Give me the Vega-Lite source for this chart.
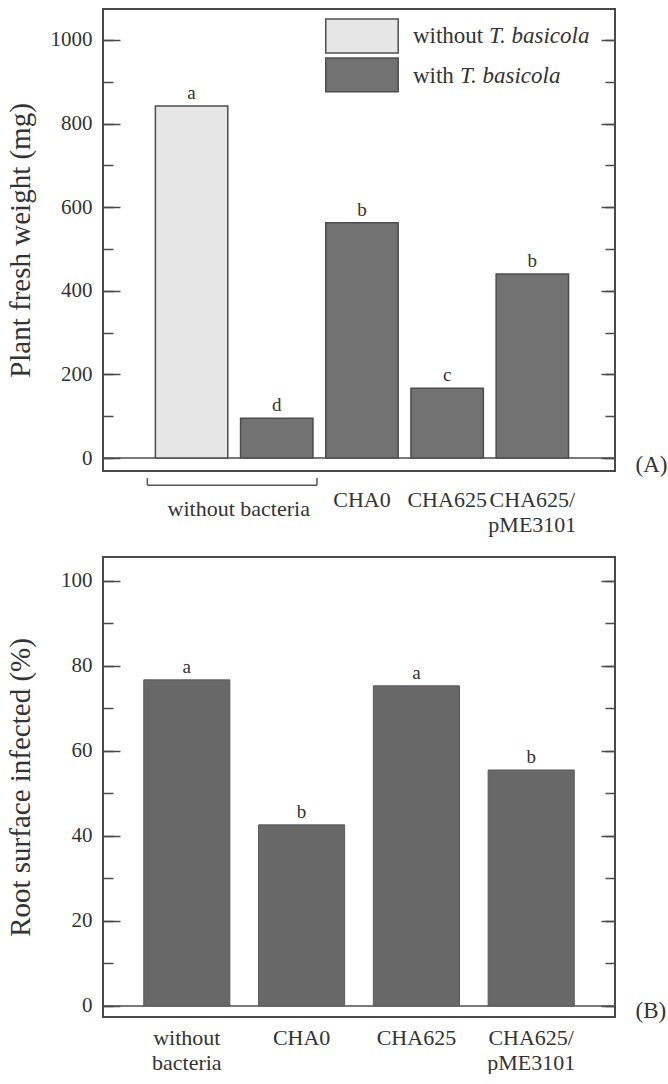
{
  "$schema": "https://vega.github.io/schema/vega-lite/v6.json",
  "background": "white",
  "padding": {"top": 8, "left": 5, "right": 0, "bottom": 0},
  "spacing": 20,
  "config": {
    "font": "Liberation Serif",
    "view": {"stroke": "#4a4a4a", "strokeWidth": 2},
    "axis": {"labelFont": "Liberation Serif", "titleFont": "Liberation Serif", "labelColor": "#333333", "titleColor": "#333333", "titleFontWeight": "normal", "grid": false, "domain": false, "tickColor": "#4a4a4a", "tickWidth": 1.5},
    "text": {"font": "Liberation Serif", "color": "#333333"}
  },
  "datasets": {
    "a_bars": [
      {"cat": "nb_without", "value": 842, "group": "without", "letter": "a"},
      {"cat": "nb_with", "value": 95, "group": "with", "letter": "d"},
      {"cat": "CHA0", "value": 563, "group": "with", "letter": "b"},
      {"cat": "CHA625", "value": 167, "group": "with", "letter": "c"},
      {"cat": "CHA625/pME3101", "value": 440, "group": "with", "letter": "b"}
    ],
    "a_legend": [
      {"swatch_cat": "CHA0", "label_cat": "CHA625", "top": 1050, "bottom": 969, "mid": 1010, "group": "without", "word": "without", "species": "T. basicola"},
      {"swatch_cat": "CHA0", "label_cat": "CHA625", "top": 957, "bottom": 876, "mid": 913, "group": "with", "word": "with", "species": "T. basicola"}
    ],
    "a_notes": [
      {"label": "without bacteria"}
    ],
    "b_bars": [
      {"cat": "without bacteria", "value": 76.7, "letter": "a"},
      {"cat": "CHA0", "value": 42.6, "letter": "b"},
      {"cat": "CHA625", "value": 75.3, "letter": "a"},
      {"cat": "CHA625/pME3101", "value": 55.5, "letter": "b"}
    ]
  },
  "vconcat": [
    {
      "width": 512,
      "height": 462,
      "layer": [
        {
          "data": {"values": [{}]},
          "mark": {"type": "rule", "color": "#4d4d4d", "strokeWidth": 1.5},
          "encoding": {"y": {"datum": 0, "type": "quantitative", "scale": {"domain": [-31, 1074], "nice": false, "zero": false}, "axis": null}}
        },
        {
          "data": {"name": "a_bars"},
          "mark": {"type": "bar", "stroke": "#4d4d4d", "strokeWidth": 1.5},
          "encoding": {
            "x": {"field": "cat", "type": "nominal", "sort": null,
              "scale": {"domain": ["nb_without", "nb_with", "CHA0", "CHA625", "CHA625/pME3101"], "paddingInner": 0.15, "paddingOuter": 0.58, "align": 0.53},
              "axis": {"title": null, "ticks": false, "tickSize": 0, "domain": false, "labelAngle": 0, "labelFontSize": 22, "labelPadding": 18, "labelLineHeight": 25, "labelOverlap": false, "labelLimit": 0,
                "labelExpr": "datum.label == 'nb_without' || datum.label == 'nb_with' ? '' : (datum.label == 'CHA625/pME3101' ? ['CHA625/', 'pME3101'] : datum.label)"}},
            "y": {"field": "value", "type": "quantitative", "scale": {"domain": [-31, 1074], "nice": false, "zero": false},
              "axis": {"orient": "left", "offset": -10, "title": "Plant fresh weight (mg)", "format": "d", "values": [0, 100, 200, 300, 400, 500, 600, 700, 800, 900, 1000],
                "labelExpr": "datum.value % 200 === 0 ? datum.label : ''",
                "tickSize": 10, "labelFontSize": 21, "labelPadding": 11, "titleFontSize": 29, "titlePadding": 13, "minExtent": 65, "maxExtent": 65}},
            "color": {"field": "group", "type": "nominal", "scale": {"domain": ["without", "with"], "range": ["#e6e6e6", "#727272"]}, "legend": null}
          }
        },
        {
          "data": {"name": "a_bars"},
          "mark": {"type": "point", "opacity": 0},
          "encoding": {
            "x": {"field": "cat", "type": "nominal"},
            "y": {"field": "value", "type": "quantitative", "scale": {"domain": [-31, 1074], "nice": false, "zero": false},
              "axis": {"orient": "right", "offset": -10, "title": "(A)", "titleAngle": 0, "titleAnchor": "start", "titleAlign": "left", "titleBaseline": "alphabetic", "titlePadding": 20, "titleFontSize": 23,
                "labels": false, "values": [0, 100, 200, 300, 400, 500, 600, 700, 800, 900, 1000],
                "tickSize": 10, "minExtent": 10, "maxExtent": 10}}
          }
        },
        {
          "data": {"name": "a_bars"},
          "mark": {"type": "point", "opacity": 0},
          "encoding": {
            "x": {"field": "cat", "type": "nominal"},
            "y": {"field": "value", "type": "quantitative", "scale": {"domain": [-31, 1074], "nice": false, "zero": false},
              "axis": {"orient": "left", "offset": -17, "title": null, "labels": false, "values": [0, 200, 400, 600, 800, 1000],
                "tickSize": 17, "minExtent": 0, "maxExtent": 0}}
          }
        },
        {
          "data": {"name": "a_bars"},
          "mark": {"type": "point", "opacity": 0},
          "encoding": {
            "x": {"field": "cat", "type": "nominal"},
            "y": {"field": "value", "type": "quantitative", "scale": {"domain": [-31, 1074], "nice": false, "zero": false},
              "axis": {"orient": "right", "offset": -14, "title": null, "labels": false, "values": [0, 200, 400, 600, 800, 1000],
                "tickSize": 14, "minExtent": 0, "maxExtent": 0}}
          }
        },
        {
          "data": {"name": "a_bars"},
          "mark": {"type": "text", "fontSize": 19, "dy": -7, "baseline": "alphabetic"},
          "encoding": {
            "x": {"field": "cat", "type": "nominal"},
            "y": {"field": "value", "type": "quantitative", "scale": {"domain": [-31, 1074], "nice": false, "zero": false}, "axis": null},
            "text": {"field": "letter"}
          }
        },
        {
          "data": {"name": "a_legend"},
          "mark": {"type": "bar", "stroke": "#4d4d4d", "strokeWidth": 1.5},
          "encoding": {
            "x": {"field": "swatch_cat", "type": "nominal"},
            "y": {"field": "top", "type": "quantitative", "scale": {"domain": [-31, 1074], "nice": false, "zero": false}, "axis": null},
            "y2": {"field": "bottom"},
            "color": {"field": "group", "type": "nominal", "legend": null}
          }
        },
        {
          "data": {"name": "a_legend"},
          "mark": {"type": "text", "align": "left", "baseline": "middle", "fontSize": 23, "dx": 2},
          "encoding": {
            "x": {"field": "label_cat", "type": "nominal", "bandPosition": 0},
            "y": {"field": "mid", "type": "quantitative", "scale": {"domain": [-31, 1074], "nice": false, "zero": false}, "axis": null},
            "text": {"field": "word"}
          }
        },
        {
          "data": {"name": "a_legend"},
          "transform": [{"filter": "datum.group == 'without'"}],
          "mark": {"type": "text", "align": "left", "baseline": "middle", "fontSize": 23, "fontStyle": "italic", "dx": 78},
          "encoding": {
            "x": {"field": "label_cat", "type": "nominal", "bandPosition": 0},
            "y": {"field": "mid", "type": "quantitative", "scale": {"domain": [-31, 1074], "nice": false, "zero": false}, "axis": null},
            "text": {"field": "species"}
          }
        },
        {
          "data": {"name": "a_legend"},
          "transform": [{"filter": "datum.group == 'with'"}],
          "mark": {"type": "text", "align": "left", "baseline": "middle", "fontSize": 23, "fontStyle": "italic", "dx": 49},
          "encoding": {
            "x": {"field": "label_cat", "type": "nominal", "bandPosition": 0},
            "y": {"field": "mid", "type": "quantitative", "scale": {"domain": [-31, 1074], "nice": false, "zero": false}, "axis": null},
            "text": {"field": "species"}
          }
        },
        {
          "data": {"name": "a_notes"},
          "mark": {"type": "rule", "color": "#555555", "strokeWidth": 1.5, "xOffset": -8, "x2Offset": 4},
          "encoding": {
            "x": {"datum": "nb_without", "type": "nominal", "bandPosition": 0},
            "x2": {"datum": "nb_with", "bandPosition": 1},
            "y": {"datum": -65, "type": "quantitative", "scale": {"domain": [-31, 1074], "nice": false, "zero": false}, "axis": null}
          }
        },
        {
          "data": {"name": "a_notes"},
          "mark": {"type": "rule", "color": "#555555", "strokeWidth": 1.5, "xOffset": -8},
          "encoding": {
            "x": {"datum": "nb_without", "type": "nominal", "bandPosition": 0},
            "y": {"datum": -65, "type": "quantitative", "scale": {"domain": [-31, 1074], "nice": false, "zero": false}, "axis": null},
            "y2": {"datum": -48}
          }
        },
        {
          "data": {"name": "a_notes"},
          "mark": {"type": "rule", "color": "#555555", "strokeWidth": 1.5, "xOffset": 4},
          "encoding": {
            "x": {"datum": "nb_with", "type": "nominal", "bandPosition": 1},
            "y": {"datum": -65, "type": "quantitative", "scale": {"domain": [-31, 1074], "nice": false, "zero": false}, "axis": null},
            "y2": {"datum": -48}
          }
        },
        {
          "data": {"name": "a_notes"},
          "mark": {"type": "text", "fontSize": 22, "baseline": "alphabetic", "align": "center", "dx": 11},
          "encoding": {
            "x": {"datum": "nb_without", "type": "nominal", "bandPosition": 1},
            "y": {"datum": -139, "type": "quantitative", "scale": {"domain": [-31, 1074], "nice": false, "zero": false}, "axis": null},
            "text": {"field": "label"}
          }
        }
      ],
      "resolve": {"axis": {"y": "independent"}}
    },
    {
      "width": 512,
      "height": 460,
      "layer": [
        {
          "data": {"values": [{}]},
          "mark": {"type": "rule", "color": "#4d4d4d", "strokeWidth": 1.5},
          "encoding": {"y": {"datum": 0, "type": "quantitative", "scale": {"domain": [-2.6, 105.6], "nice": false, "zero": false}, "axis": null}}
        },
        {
          "data": {"name": "b_bars"},
          "mark": {"type": "bar", "color": "#686868", "stroke": "#5a5a5a", "strokeWidth": 1},
          "encoding": {
            "x": {"field": "cat", "type": "nominal", "sort": null,
              "scale": {"domain": ["without bacteria", "CHA0", "CHA625", "CHA625/pME3101"], "paddingInner": 0.25, "paddingOuter": 0.355},
              "axis": {"title": null, "ticks": false, "tickSize": 0, "domain": false, "labelAngle": 0, "labelFontSize": 22, "labelPadding": 10, "labelLineHeight": 25, "labelOverlap": false, "labelLimit": 0,
                "labelExpr": "datum.label == 'without bacteria' ? ['without', 'bacteria'] : (datum.label == 'CHA625/pME3101' ? ['CHA625/', 'pME3101'] : datum.label)"}},
            "y": {"field": "value", "type": "quantitative", "scale": {"domain": [-2.6, 105.6], "nice": false, "zero": false},
              "axis": {"orient": "left", "offset": -10, "title": "Root surface infected (%)", "format": "d", "values": [0, 10, 20, 30, 40, 50, 60, 70, 80, 90, 100],
                "labelExpr": "datum.value % 20 === 0 ? datum.label : ''",
                "tickSize": 10, "labelFontSize": 21, "labelPadding": 11, "titleFontSize": 29, "titlePadding": 13, "minExtent": 65, "maxExtent": 65}}
          }
        },
        {
          "data": {"name": "b_bars"},
          "mark": {"type": "point", "opacity": 0},
          "encoding": {
            "x": {"field": "cat", "type": "nominal"},
            "y": {"field": "value", "type": "quantitative", "scale": {"domain": [-2.6, 105.6], "nice": false, "zero": false},
              "axis": {"orient": "right", "offset": -10, "title": "(B)", "titleAngle": 0, "titleAnchor": "start", "titleAlign": "left", "titleBaseline": "alphabetic", "titlePadding": 20, "titleFontSize": 23,
                "labels": false, "values": [0, 10, 20, 30, 40, 50, 60, 70, 80, 90, 100],
                "tickSize": 10, "minExtent": 10, "maxExtent": 10}}
          }
        },
        {
          "data": {"name": "b_bars"},
          "mark": {"type": "point", "opacity": 0},
          "encoding": {
            "x": {"field": "cat", "type": "nominal"},
            "y": {"field": "value", "type": "quantitative", "scale": {"domain": [-2.6, 105.6], "nice": false, "zero": false},
              "axis": {"orient": "left", "offset": -17, "title": null, "labels": false, "values": [0, 20, 40, 60, 80, 100],
                "tickSize": 17, "minExtent": 0, "maxExtent": 0}}
          }
        },
        {
          "data": {"name": "b_bars"},
          "mark": {"type": "point", "opacity": 0},
          "encoding": {
            "x": {"field": "cat", "type": "nominal"},
            "y": {"field": "value", "type": "quantitative", "scale": {"domain": [-2.6, 105.6], "nice": false, "zero": false},
              "axis": {"orient": "right", "offset": -14, "title": null, "labels": false, "values": [0, 20, 40, 60, 80, 100],
                "tickSize": 14, "minExtent": 0, "maxExtent": 0}}
          }
        },
        {
          "data": {"name": "b_bars"},
          "mark": {"type": "text", "fontSize": 19, "dy": -7, "baseline": "alphabetic"},
          "encoding": {
            "x": {"field": "cat", "type": "nominal"},
            "y": {"field": "value", "type": "quantitative", "scale": {"domain": [-2.6, 105.6], "nice": false, "zero": false}, "axis": null},
            "text": {"field": "letter"}
          }
        }
      ],
      "resolve": {"axis": {"y": "independent"}}
    }
  ]
}
